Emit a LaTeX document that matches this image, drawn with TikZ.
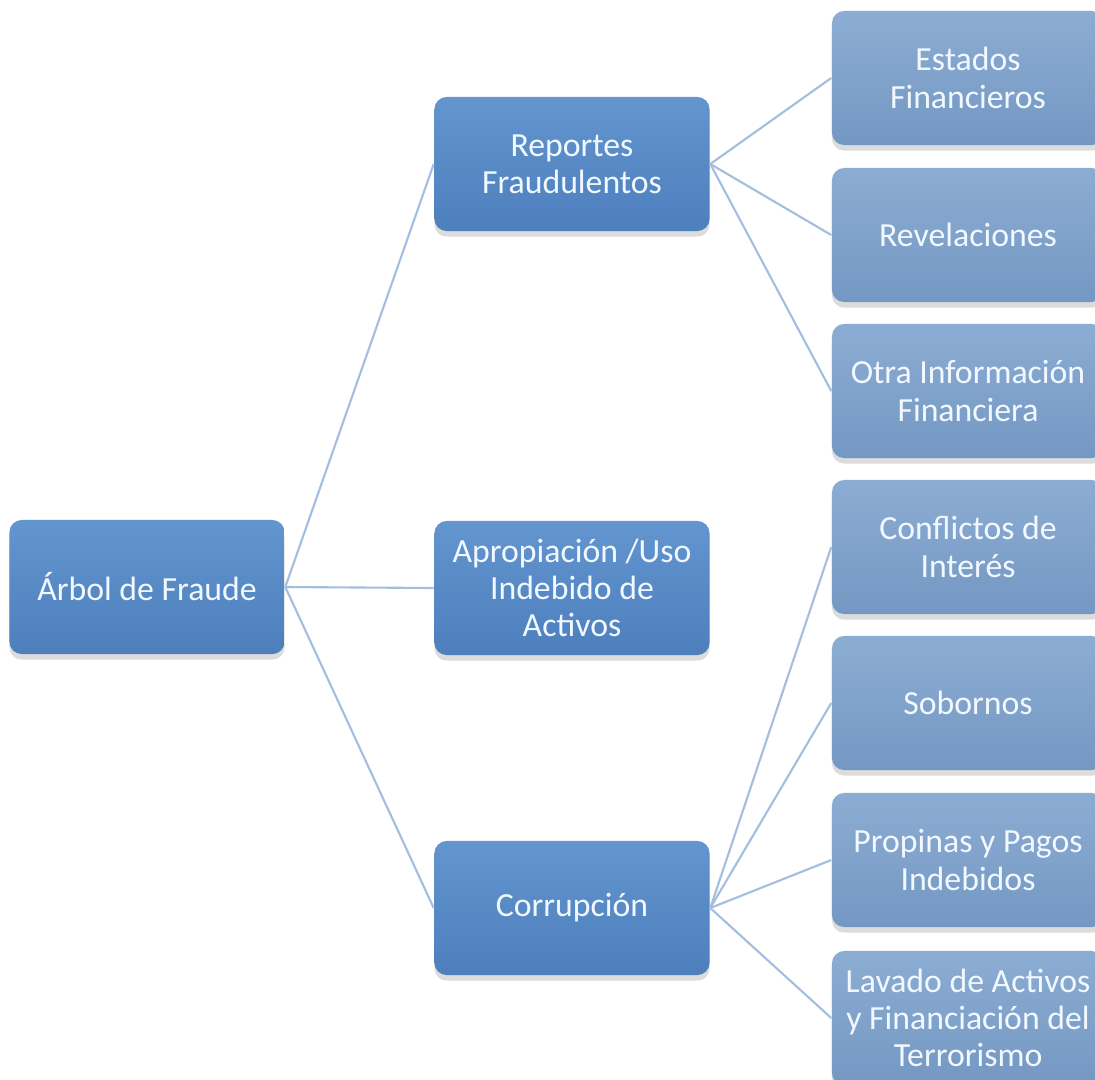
\documentclass[tikz,border=0pt]{standalone}
\usepackage{fontspec}
\setmainfont{Carlito}
\usepackage{xcolor}
\usepackage{tikz}
\usetikzlibrary{shadows}

\definecolor{deepTop}{HTML}{6396CF}
\definecolor{deepBot}{HTML}{4C7FBC}
\definecolor{paleTop}{HTML}{8CADD3}
\definecolor{paleBot}{HTML}{7498C3}
\definecolor{branch}{HTML}{A3BEDF}
\definecolor{boxtext}{HTML}{F2F8FF}

\begin{document}
\begin{tikzpicture}[
  x=0.01cm, y=-0.01cm,
  font=\fontsize{9.6}{10.6}\selectfont,
  box/.style={rounded corners=3.5pt, minimum width=2.75cm,
              minimum height=1.34cm, align=center, text=boxtext,
              top color=deepTop, bottom color=deepBot,
              drop shadow={shadow xshift=0pt, shadow yshift=-1.6pt,
                           fill=black!45, opacity=0.3}},
  leaf/.style={box, minimum width=2.72cm, top color=paleTop,
               bottom color=paleBot},
  edge/.style={draw=branch, line width=0.6pt}
]
  \clip (0,0) rectangle (1095,1079);
  \fill[white] (0,0) rectangle (1095,1079);

  % Root
  \node[box] (root)  at (147, 587)  {Árbol de Fraude};
  % Middle column
  \node[box] (rep)   at (572, 164)  {Reportes\\Fraudulentos};
  \node[box] (apr)   at (572, 588)  {Apropiación /Uso\\Indebido de\\Activos};
  \node[box] (cor)   at (572, 908)  {Corrupción};
  % Right column, under Reportes
  \node[leaf] (est)  at (968, 78)   {Estados\\Financieros};
  \node[leaf] (rev)  at (968, 235)  {Revelaciones};
  \node[leaf] (otra) at (968, 391)  {Otra Información\\Financiera};
  % Right column, under Corrupción
  \node[leaf] (conf) at (968, 547)  {Conflictos de\\Interés};
  \node[leaf] (sob)  at (968, 703)  {Sobornos};
  \node[leaf] (prop) at (968, 860)  {Propinas y Pagos\\Indebidos};
  \node[leaf] (lav)  at (968, 1018) {Lavado de Activos\\y Financiación del\\Terrorismo};

  % Root to middle column
  \draw[edge] (root.east) -- (rep.west);
  \draw[edge] (root.east) -- (apr.west);
  \draw[edge] (root.east) -- (cor.west);

  % Reportes branches
  \draw[edge] (rep.east) -- (est.west);
  \draw[edge] (rep.east) -- (rev.west);
  \draw[edge] (rep.east) -- (otra.west);

  % Corrupción branches
  \draw[edge] (cor.east) -- (conf.west);
  \draw[edge] (cor.east) -- (sob.west);
  \draw[edge] (cor.east) -- (prop.west);
  \draw[edge] (cor.east) -- (lav.west);

\end{tikzpicture}
\end{document}
